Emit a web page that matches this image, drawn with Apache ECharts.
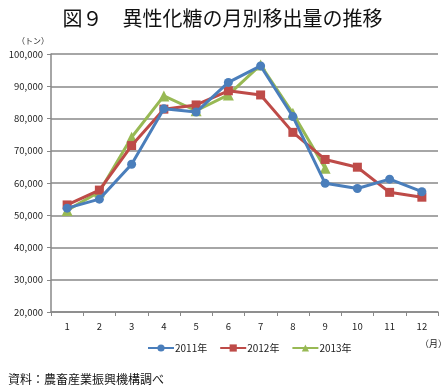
<!DOCTYPE html>
<html><head><meta charset="utf-8">
<script src="https://cdn.jsdelivr.net/npm/echarts@6/dist/echarts.min.js"></script>
<style>html,body{margin:0;padding:0;background:#fff}#c{width:445px;height:391px}</style>
</head><body><div id="c"></div>
<script>
const months = ['1','2','3','4','5','6','7','8','9','10','11','12'];
const s2011 = [52200, 55000, 65800, 83000, 82000, 91200, 96300, 80600, 59900, 58300, 61200, 57300];
const s2012 = [53200, 57800, 71600, 82900, 84200, 88600, 87300, 75700, 67300, 64900, 57100, 55600];
const s2013 = [51500, 57300, 74200, 87000, 82400, 87300, 96600, 81600, 64600];
const yTicks = [20000, 100000, 10000];
const names = ['2011年', '2012年', '2013年'];
const colors = ['#4A7EBB', '#BE4B48', '#98B954'];
const symbols = ['circle', 'rect', 'triangle'];
const font = '"Noto Sans CJK JP", sans-serif';
const chart = echarts.init(document.getElementById('c'), null, {renderer: 'canvas'});
const series = [s2011, s2012, s2013].map((d, i) => ({
  name: names[i], type: 'line', data: d, symbol: symbols[i], symbolSize: i === 2 ? 11 : 9,
  lineStyle: {width: 3, color: colors[i]}, itemStyle: {color: colors[i]}, z: 3 - i
}));
chart.setOption({
  animation: false,
  textStyle: {fontFamily: font},
  title: [
    {text: '図９　異性化糖の月別移出量の推移', left: 'center', top: 3, textStyle: {fontSize: 20, fontWeight: 'normal', color: '#111', fontFamily: font}},
    {text: '（トン）', left: 12, top: 32, textStyle: {fontSize: 8, fontWeight: 'normal', color: '#222', fontFamily: font}},
    {text: '（月）', left: 415, top: 334, textStyle: {fontSize: 9, fontWeight: 'normal', color: '#222', fontFamily: font}},
    {text: '資料：農畜産業振興機構調べ', left: 3, top: 368, textStyle: {fontSize: 12, fontWeight: 'normal', color: '#111', fontFamily: font}}
  ],
  legend: {
    data: names, bottom: 33, left: 142,
    itemWidth: 26, itemHeight: 9, itemGap: 12,
    textStyle: {fontSize: 10, color: '#222', fontFamily: font, padding: [0, 0, 0, -4]}
  },
  grid: {left: 51, right: 7, top: 54, bottom: 79},
  xAxis: {
    type: 'category', data: months, boundaryGap: true,
    axisLine: {lineStyle: {color: '#888', width: 1.5}},
    axisTick: {show: true, length: 4, lineStyle: {color: '#888'}},
    axisLabel: {fontSize: 9.5, color: '#222', margin: 10}
  },
  yAxis: {
    type: 'value', min: yTicks[0], max: yTicks[1], interval: yTicks[2],
    axisLine: {show: true, lineStyle: {color: '#888', width: 1.5}},
    axisTick: {show: true, length: 4, lineStyle: {color: '#888'}},
    splitLine: {lineStyle: {color: '#888', width: 1.5}},
    axisLabel: {fontSize: 9.5, color: '#222', margin: 8, formatter: v => v.toLocaleString('en-US')}
  },
  series: series
});
</script></body></html>
